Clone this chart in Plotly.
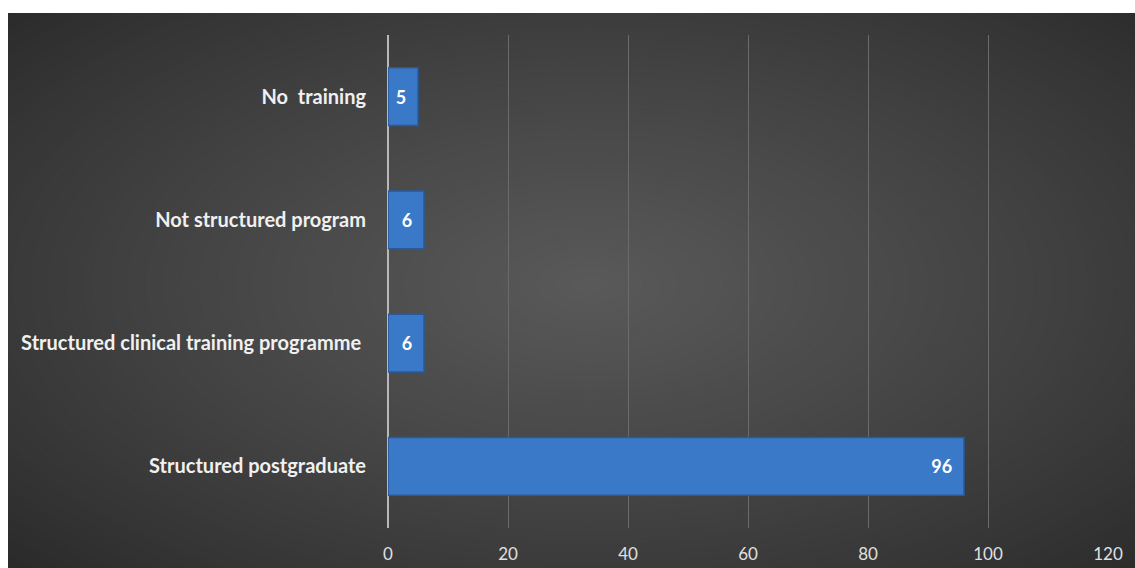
import plotly.graph_objects as go

# Data (bottom to top, as in the source chart)
categories = ["Structured postgraduate", "Structured clinical training programme ",
              "Not structured program", "No  training"]
values = [96, 6, 6, 5]
x_ticks = [0, 20, 40, 60, 80, 100, 120]

W, H = 1135, 568
L, R, T, B = 388, 27, 35, 40
pw, ph = W - L - R, H - T - B


def px(x):
    return (x - L) / pw


def py(y):
    return (H - B - y) / ph


def mix(c1, c2, t):
    return "#%02x%02x%02x" % tuple(int(round(a + (b - a) * t)) for a, b in zip(c1, c2))


shapes = []
# dark base panel
shapes.append(dict(type="rect", xref="paper", yref="paper", x0=px(8), x1=px(W + 50), y0=py(13), y1=py(H + 50),
                   fillcolor="#292929", line=dict(width=0), layer="below"))
# radial gradient using concentric ellipses
cx, cy = 590, 285
outer = (41, 41, 41)
inner = (89, 89, 89)
N = 90
rx0, ry0 = 800, 410
for i in range(N):
    k = 1 - i / N
    t = (i + 1) / N
    shapes.append(dict(type="circle", xref="paper", yref="paper",
                       x0=px(cx - rx0 * k), x1=px(cx + rx0 * k),
                       y0=py(cy + ry0 * k), y1=py(cy - ry0 * k),
                       fillcolor=mix(outer, inner, t ** 0.85), line=dict(width=0), layer="below"))
# white margins (top and left)
shapes.append(dict(type="rect", xref="paper", yref="paper", x0=px(-50), x1=px(W + 50), y0=py(13), y1=py(-50),
                   fillcolor="white", line=dict(width=0), layer="below"))
shapes.append(dict(type="rect", xref="paper", yref="paper", x0=px(-50), x1=px(8), y0=py(H + 50), y1=py(-50),
                   fillcolor="white", line=dict(width=0), layer="below"))

fig = go.Figure()
fig.add_trace(go.Bar(
    x=values, y=categories, orientation="h",
    marker=dict(color="#3a78c8", line=dict(color="#2a5a9a", width=1.5)),
    width=0.47,
    text=values, texttemplate="%{x}\u00a0\u00a0", textposition="inside", insidetextanchor="end",
    textfont=dict(family="Lato", size=18, color="white", weight="bold"),
    hoverinfo="skip",
))

fig.update_layout(
    width=W, height=H,
    margin=dict(l=L, r=R, t=T, b=B),
    paper_bgcolor="white",
    plot_bgcolor="rgba(0,0,0,0)",
    shapes=shapes,
    showlegend=False,
    font=dict(family="Lato", color="#e6e6e6"),
)
fig.update_xaxes(range=[0, 120], tickvals=x_ticks, showgrid=True, gridcolor="#6b6b6b", gridwidth=1,
                 zeroline=True, zerolinecolor="#b8b8b8", zerolinewidth=2, automargin=False,
                 tickfont=dict(family="Lato", size=17, color="#e0e0e0"), ticks="", ticklabelstandoff=14,
                 showline=False, fixedrange=True)
fig.update_yaxes(showgrid=False, tickfont=dict(family="Lato", size=20, color="#f0f0f0", weight="bold"),
                 ticks="", ticklabelstandoff=21, showline=False, fixedrange=True, automargin=False)

fig.write_html("out.html", post_script="document.body.style.margin='0';",
               config={"displayModeBar": False})
